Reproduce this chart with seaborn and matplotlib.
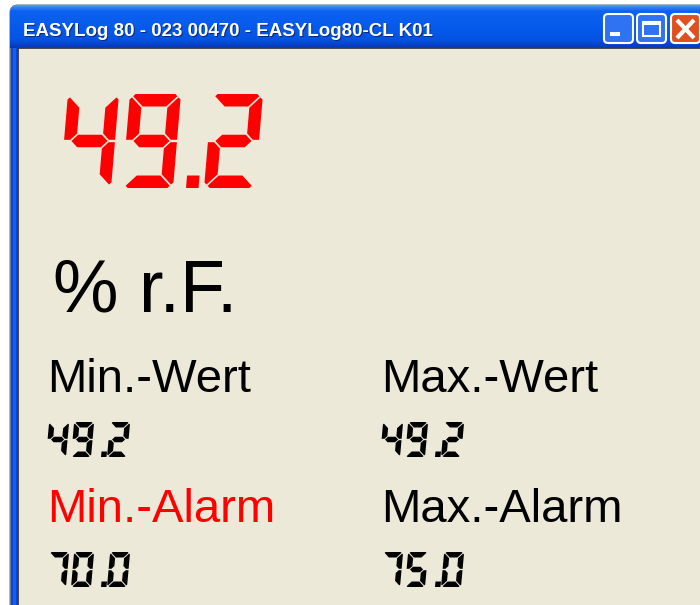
import numpy as np
import matplotlib
matplotlib.use("Agg")
import matplotlib.pyplot as plt
from matplotlib.patches import Polygon, Rectangle, FancyBboxPatch
from matplotlib.colors import LinearSegmentedColormap
import seaborn as sns

# values shown in the logger window
window_title = "EASYLog 80 - 023 00470 - EASYLog80-CL K01"
main_value = "49.2"
unit_label = "% r.F."
field_labels = ["Min.-Wert", "Max.-Wert", "Min.-Alarm", "Max.-Alarm"]
field_values = ["49.2", "49.2", "70.0", "75.0"]
label_colors = ["black", "black", "#FF0000", "black"]

sns.set_theme(style="white")
plt.rcParams['font.family'] = ['Liberation Sans', 'DejaVu Sans']

BG = "#ECE9D8"

# seven segment layout
SEGS = {'0': 'abcdef', '1': 'bc', '2': 'abdeg', '3': 'abcdg', '4': 'bcfg',
        '5': 'acdfg', '6': 'acdefg', '7': 'abc', '8': 'abcdefg', '9': 'abcdfg'}


def segment_shapes(W, H, t, g, c):
    m = H / 2
    p = ((c + g) / 2, (c - g) / 2)   # tip at the cut outer corner
    a = [(c, 0), (W - c, 0), (W - p[0], p[1]), (W - t - g, t), (t + g, t), p]
    f = [(0, c), (p[1], p[0]), (t, t + g), (t, m - t / 2 - g), (t / 2, m - g), (0, m - g)]
    mid = [(t / 2 + g, m), (t + g, m - t / 2), (W - t - g, m - t / 2),
           (W - t / 2 - g, m), (W - t - g, m + t / 2), (t + g, m + t / 2)]
    return {
        'a': a,
        'd': [(x, H - y) for x, y in a],
        'f': f,
        'e': [(x, H - y) for x, y in f],
        'b': [(W - x, y) for x, y in f],
        'c': [(W - x, H - y) for x, y in f],
        'g': mid,
    }


def draw_lcd(ax, text, x, top, H, W, t, pitch, dot_pad, dot_adv, slant, color, g=1.0):
    shapes = segment_shapes(W, H, t, g, 0.45 * t)

    def shear(pts, ox):
        return [(ox + px + slant * (H - py), top + py) for px, py in pts]

    for ch in text:
        if ch == '.':
            sq = [(dot_pad, H - t), (dot_pad + t, H - t), (dot_pad + t, H), (dot_pad, H)]
            ax.add_patch(Polygon(shear(sq, x), closed=True, fc=color, ec='none', zorder=6))
            x += dot_adv
            continue
        for s in SEGS[ch]:
            ax.add_patch(Polygon(shear(shapes[s], x), closed=True,
                                 fc=color, ec='none', zorder=6))
        x += pitch


fig = plt.figure(figsize=(7, 6.05), dpi=100)
ax = fig.add_axes([0, 0, 1, 1])
ax.set_xlim(0, 700)
ax.set_ylim(605, 0)
ax.axis('off')
fig.patch.set_facecolor('white')

# window frame with title bar gradient
frame = FancyBboxPatch((10, 5), 720, 700, boxstyle="round,pad=0,rounding_size=8",
                       fc='#0A4FE0', ec='#6A7A9A', lw=0.8)
ax.add_patch(frame)
cmap = LinearSegmentedColormap.from_list('xp', [
    (0.0, '#5A9BFA'), (0.05, '#3580F6'), (0.14, '#0C61EE'), (0.5, '#065BEC'),
    (0.82, '#0552E2'), (0.92, '#0444CF'), (1.0, '#0535B4')])
grad = np.linspace(0, 1, 200).reshape(-1, 1)
im = ax.imshow(grad, cmap=cmap, extent=(10, 730, 48, 5), aspect='auto', zorder=2)
im.set_clip_path(frame)
ax.set_xlim(0, 700)
ax.set_ylim(605, 0)

# side border and client area
ax.add_patch(Rectangle((10.5, 48), 7, 600, fc='#0847D8', ec='none', zorder=2))
ax.add_patch(Rectangle((12.5, 48), 3, 600, fc='#1660F0', ec='none', zorder=2))
ax.add_patch(Rectangle((10, 48), 0.8, 600, fc='#6A7A9A', ec='none', zorder=2))
ax.add_patch(Rectangle((17.5, 47.5), 700, 600, fc=BG, ec='#3A3A4A', lw=1.3, zorder=3))

# title text
ax.text(24, 37, window_title, color='#0A2A80', fontsize=13.5, fontweight='bold', zorder=4)
ax.text(23, 36, window_title, color='white', fontsize=13.5, fontweight='bold', zorder=5)

# caption buttons
for bx, fc in [(604, '#2F72F2'), (637, '#2F72F2'), (671, '#E0501E')]:
    ax.add_patch(FancyBboxPatch((bx, 14), 29, 29, boxstyle="round,pad=0,rounding_size=4",
                                fc=fc, ec='white', lw=1.5, zorder=5))
ax.add_patch(Rectangle((610, 32), 10, 4, fc='white', ec='none', zorder=6))
ax.add_patch(Rectangle((643, 22), 17, 14, fc='none', ec='white', lw=1.5, zorder=6))
ax.add_patch(Rectangle((643, 22), 17, 3, fc='white', ec='none', zorder=6))
ax.plot([677, 694], [20, 38], color='white', lw=3, zorder=6, solid_capstyle='butt')
ax.plot([677, 694], [38, 20], color='white', lw=3, zorder=6, solid_capstyle='butt')

# big red reading
draw_lcd(ax, main_value, 60, 94, 94, 51, 12.5, 62, 2, 20, 0.085, '#FF0000', g=1.2)
ax.text(53, 312, unit_label, fontsize=53, color='black', zorder=6)

# min/max fields
col_x = [46, 380, 46, 380]
lab_y = [392, 392, 522, 522]
val_top = [422, 422, 552, 552]
for lab, val, c, cx, ly, vt in zip(field_labels, field_values, label_colors, col_x, lab_y, val_top):
    ax.text(cx + 1, ly, lab, fontsize=34, color=c, zorder=6)
    draw_lcd(ax, val, cx, vt, 35, 20, 5.5, 25, 5, 11, 0.09, 'black', g=0.7)

fig.savefig('out.png', dpi=100)
